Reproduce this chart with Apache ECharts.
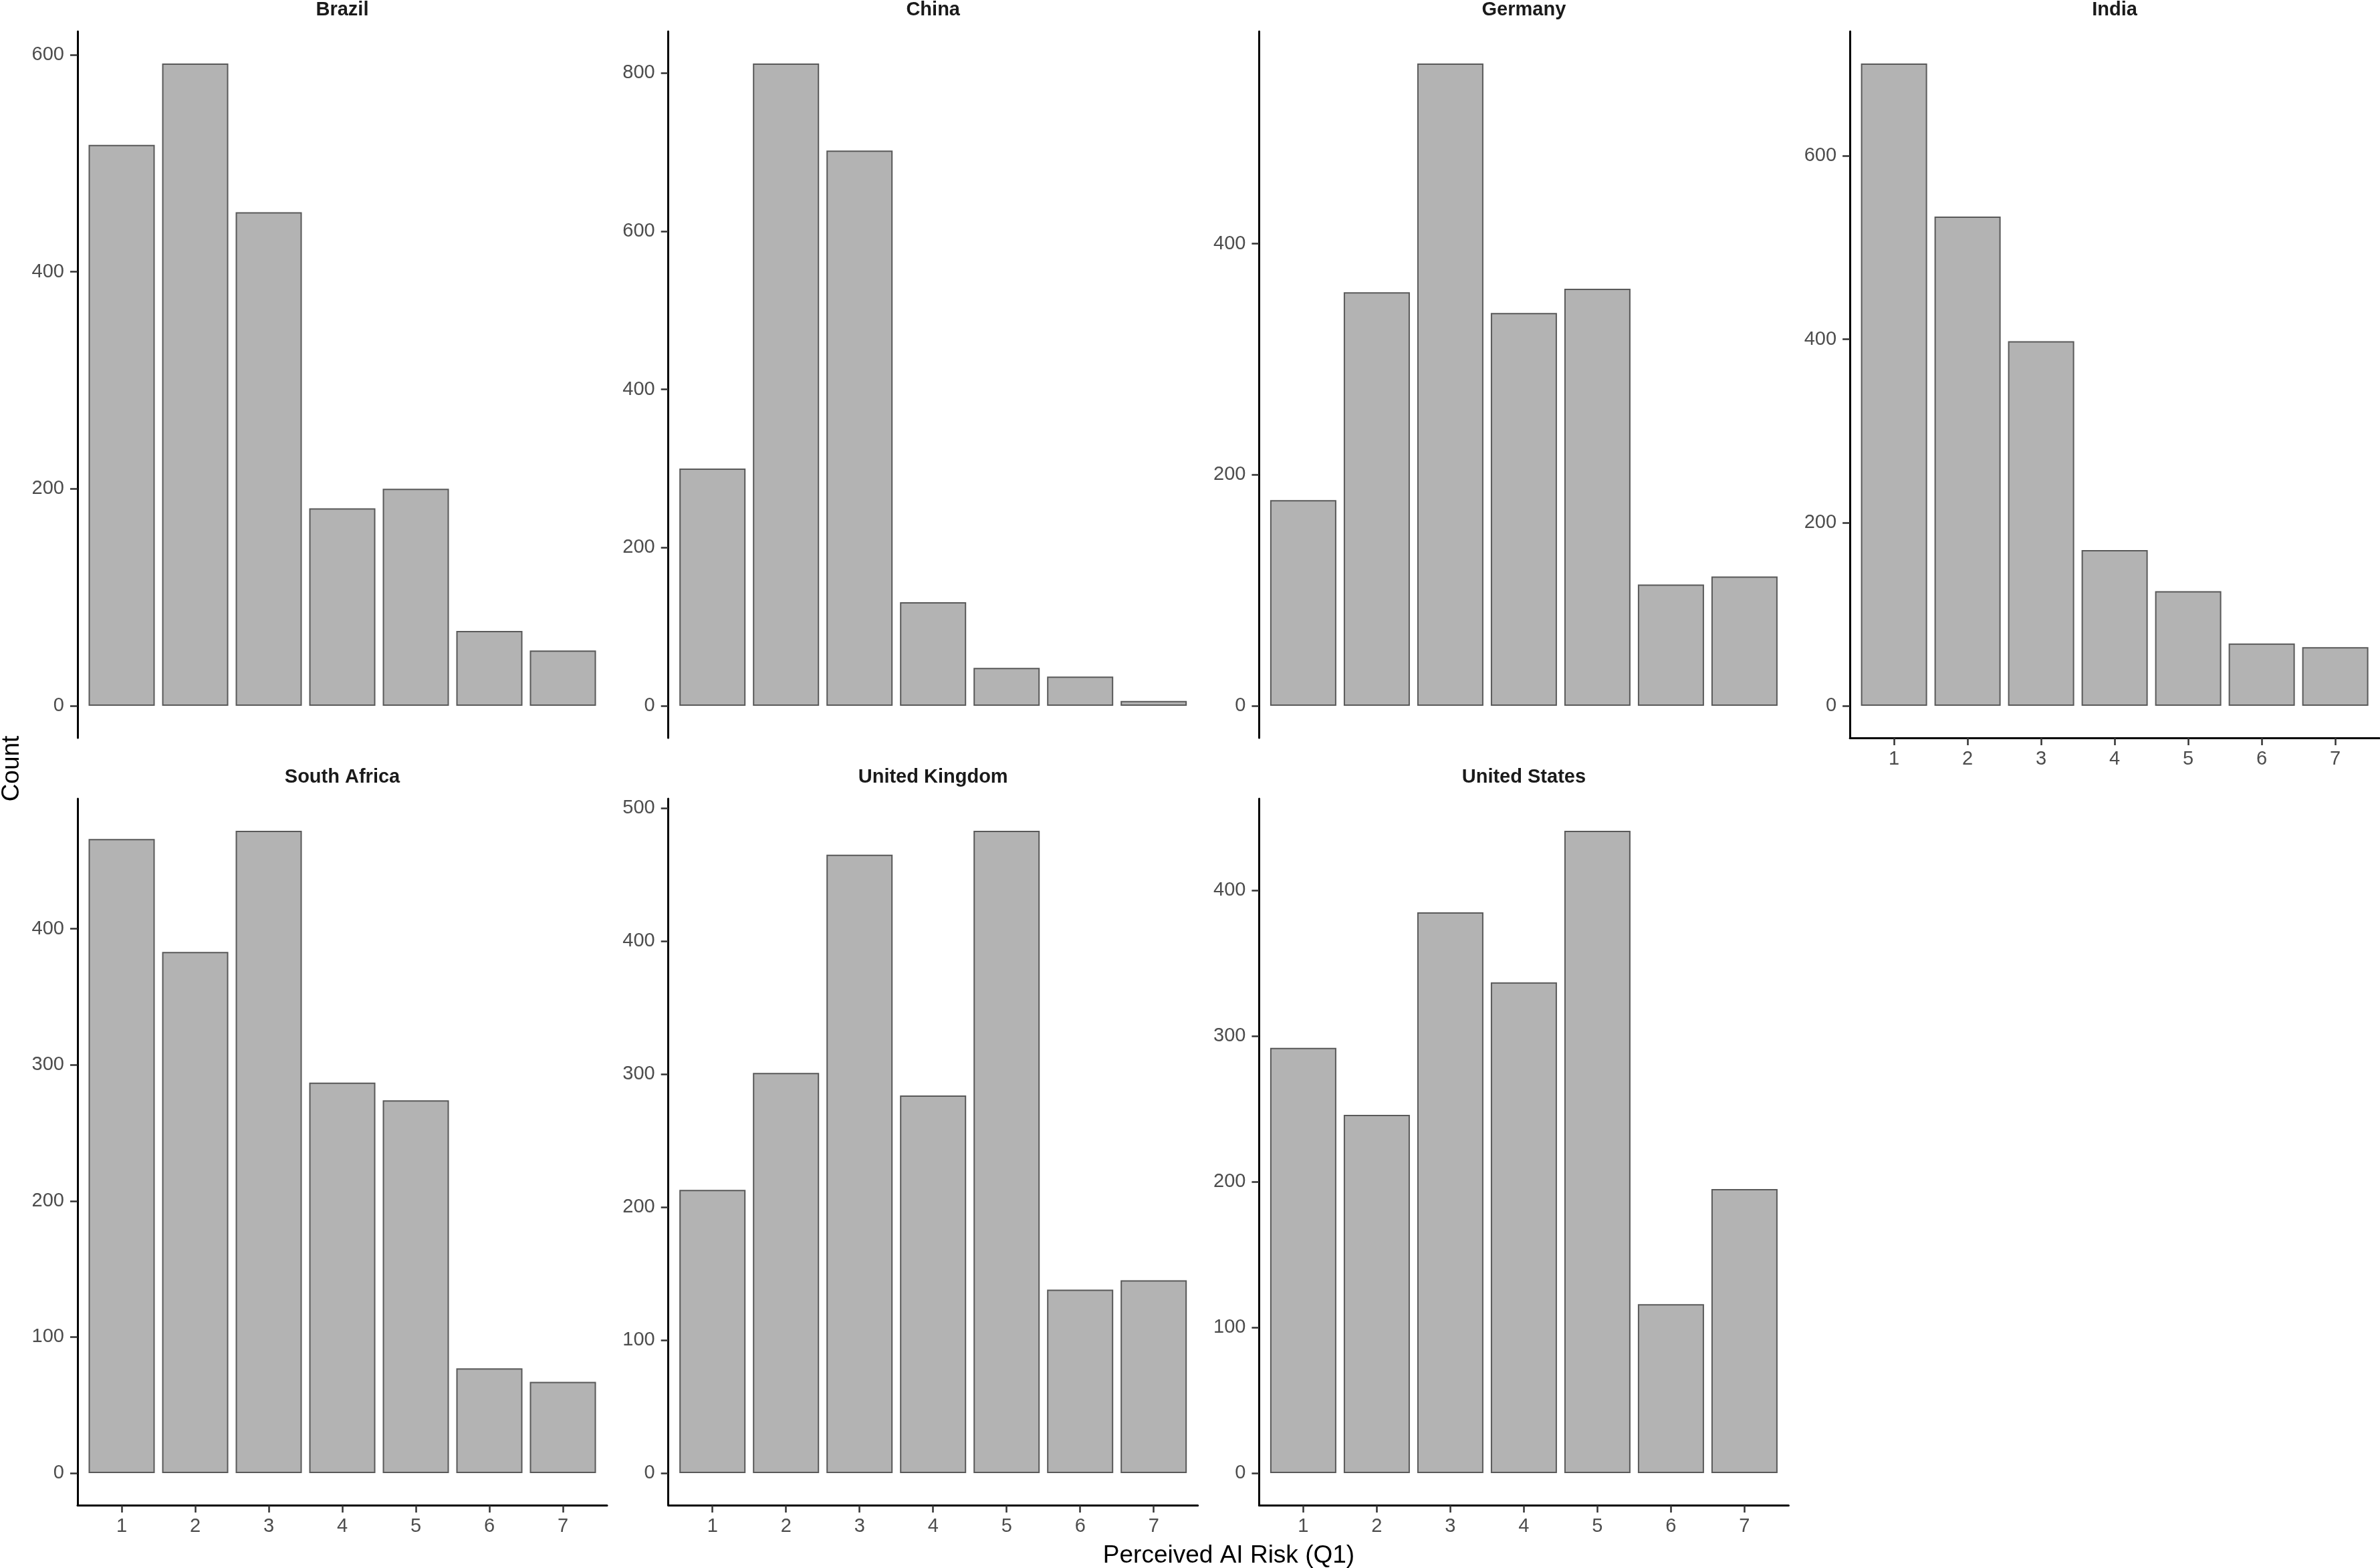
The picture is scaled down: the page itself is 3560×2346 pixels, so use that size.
<!DOCTYPE html>
<html>
<head>
<meta charset="utf-8">
<script src="https://cdn.jsdelivr.net/npm/echarts@6/dist/echarts.min.js"></script>
<style>
  html, body { margin: 0; padding: 0; background: #fff; }
  #chart { width: 3560px; height: 2346px; }
</style>
</head>
<body>
<div id="chart"></div>
<script>
// data
const riskLevels = [1, 2, 3, 4, 5, 6, 7]
const countries = ['Brazil', 'China', 'Germany', 'India', 'South Africa', 'United Kingdom', 'United States']

const brazilCounts = [517, 592, 455, 182, 200, 69, 51]
const chinaCounts = [300, 812, 702, 131, 48, 37, 6]
const germanyCounts = [178, 358, 556, 340, 361, 105, 112]
const indiaCounts = [701, 534, 398, 170, 125, 68, 64]
const southAfricaCounts = [466, 383, 472, 287, 274, 77, 67]
const ukCounts = [213, 301, 465, 284, 483, 138, 145]
const usCounts = [292, 246, 385, 337, 441, 116, 195]

const brazilTicks = [0, 200, 400, 600]
const chinaTicks = [0, 200, 400, 600, 800]
const germanyTicks = [0, 200, 400]
const indiaTicks = [0, 200, 400, 600]
const southAfricaTicks = [0, 100, 200, 300, 400]
const ukTicks = [0, 100, 200, 300, 400, 500]
const usTicks = [0, 100, 200, 300, 400]

const allCounts = [brazilCounts, chinaCounts, germanyCounts, indiaCounts, southAfricaCounts, ukCounts, usCounts]
const allTicks = [brazilTicks, chinaTicks, germanyTicks, indiaTicks, southAfricaTicks, ukTicks, usTicks]

let myChart = echarts.init(document.getElementById('chart'))

const font = '"Liberation Sans", Arial, Helvetica, sans-serif'
const panelW = 792
const panelH = 1057
const colStep = 883.7
const rowTops = [47, 1195]

var grids = [], xAxes = [], yAxes = [], seriesArr = [], titleArr = []

countries.forEach(function (name, i) {
  let col = i % 4
  let row = Math.floor(i / 4)
  let left = 116 + col * colStep
  let top = rowTops[row]
  let counts = allCounts[i]
  let maxV = Math.max.apply(null, counts)
  // x axis shown on bottom row and on India (nothing below it)
  let showX = row === 1 || i === 3

  grids.push({ left: left, top: top, width: panelW, height: panelH, containLabel: false })

  titleArr.push({
    text: name,
    left: left + panelW / 2,
    top: top - 32,
    padding: 0,
    textAlign: 'center',
    textVerticalAlign: 'middle',
    textStyle: { fontFamily: font, fontWeight: 'bold', fontSize: 29, color: '#1a1a1a' }
  })

  xAxes.push({
    gridIndex: i,
    type: 'value',
    min: 0.4,
    max: 7.6,
    show: showX,
    splitLine: { show: false },
    axisLine: { show: true, onZero: false, lineStyle: { color: '#000', width: 3 } },
    axisTick: { show: true, length: 11, customValues: riskLevels, lineStyle: { color: '#333', width: 2.5 } },
    axisLabel: {
      show: true, customValues: riskLevels, margin: 17,
      fontFamily: font, fontSize: 29, color: '#4d4d4d'
    }
  })

  yAxes.push({
    gridIndex: i,
    type: 'value',
    min: -0.05 * maxV,
    max: 1.05 * maxV,
    splitLine: { show: false },
    axisLine: { show: true, onZero: false, lineStyle: { color: '#000', width: 3 } },
    axisTick: { show: true, length: 11, customValues: allTicks[i], lineStyle: { color: '#333', width: 2.5 } },
    axisLabel: {
      show: true, customValues: allTicks[i], margin: 20,
      fontFamily: font, fontSize: 29, color: '#4d4d4d'
    }
  })

  seriesArr.push({
    type: 'bar',
    xAxisIndex: i,
    yAxisIndex: i,
    barWidth: panelW / 7.2 * 0.9,
    itemStyle: { color: '#b3b3b3', borderColor: '#595959', borderWidth: 2 },
    emphasis: { disabled: true },
    data: riskLevels.map(function (r, k) { return [r, counts[k]] })
  })
})

let option = {
  backgroundColor: '#fff',
  animation: false,
  title: titleArr,
  grid: grids,
  xAxis: xAxes,
  yAxis: yAxes,
  series: seriesArr,
  graphic: [
    {
      type: 'text',
      x: 18, y: 1150,
      rotation: Math.PI / 2,
      style: { text: 'Count', fontFamily: font, fontSize: 37, fill: '#000', align: 'center', verticalAlign: 'middle' }
    },
    {
      type: 'text',
      x: 1838, y: 2328,
      style: { text: 'Perceived AI Risk (Q1)', fontFamily: font, fontSize: 37, fill: '#000', align: 'center', verticalAlign: 'middle' }
    }
  ]
}
myChart.setOption(option, true)
</script>
</body>
</html>
